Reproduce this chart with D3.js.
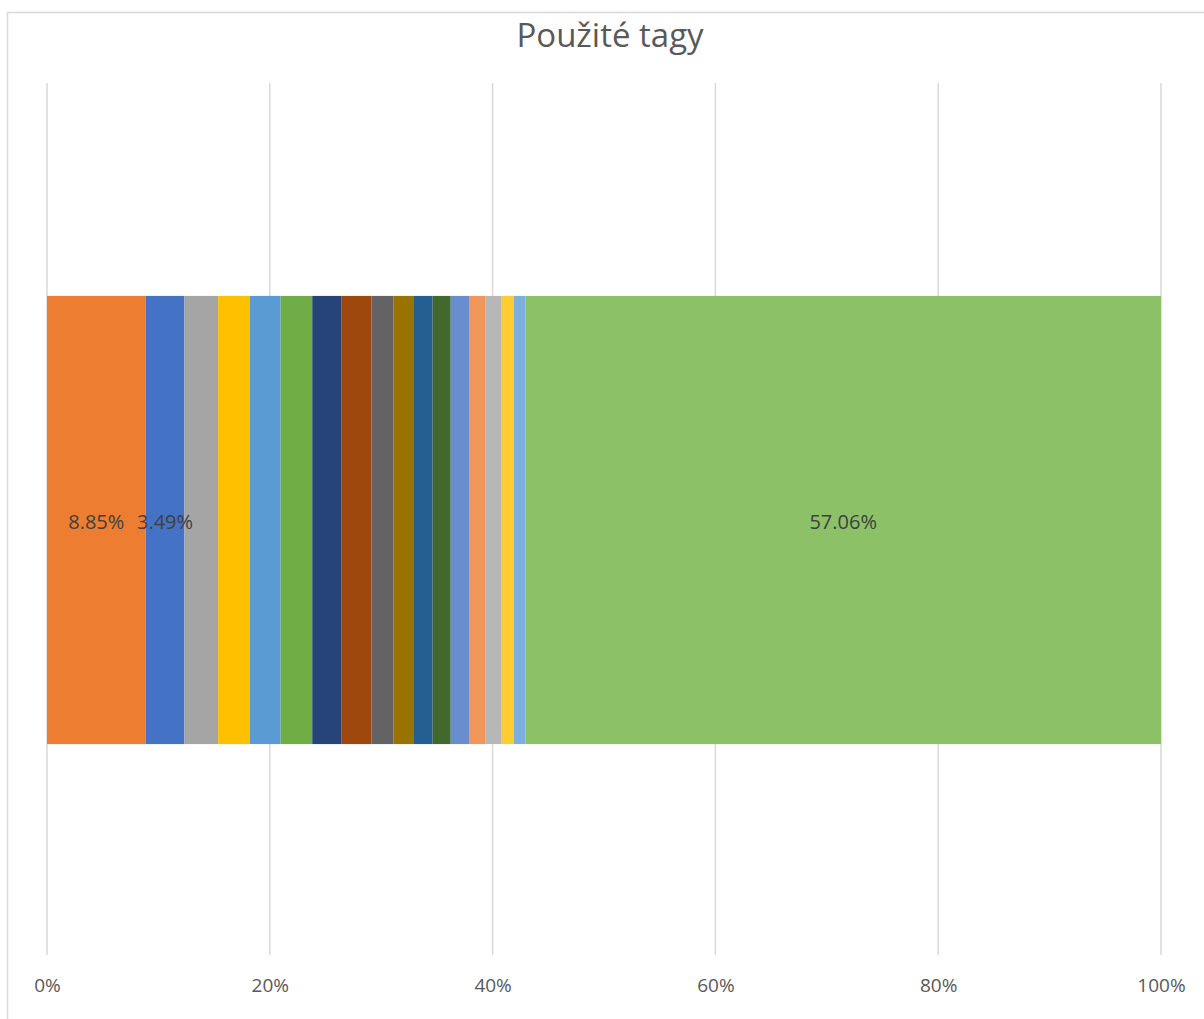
<!DOCTYPE html>
<html>
<head>
<meta charset="utf-8">
<script src="https://cdn.jsdelivr.net/npm/d3@7"></script>
<style>
    body { margin: 0; background: #fff; }
    svg text { font-family: 'Open Sans', 'Liberation Sans', sans-serif; }
</style>
</head>
<body>
<div id="chart"></div>
<script>
const title = 'Použité tagy';
const categories = ['Tagy'];
const seriesNames = ['Tag 1', 'Tag 2', 'Tag 3', 'Tag 4', 'Tag 5', 'Tag 6', 'Tag 7', 'Tag 8', 'Tag 9',
    'Tag 10', 'Tag 11', 'Tag 12', 'Tag 13', 'Tag 14', 'Tag 15', 'Tag 16', 'Tag 17', 'Tag 18'];
const seriesValues = [8.85, 3.49, 3.02, 2.85, 2.76, 2.84, 2.64, 2.69, 1.94,
    1.86, 1.68, 1.62, 1.64, 1.50, 1.44, 1.10, 1.02, 57.06];
const labelledSeries = ['Tag 1', 'Tag 2', 'Tag 18'];
const tickValues = [0, 0.2, 0.4, 0.6, 0.8, 1];

const colors = ['#ED7D31', '#4472C4', '#A5A5A5', '#FFC000', '#5B9BD5', '#70AD47', '#264478', '#9E480E', '#636363',
    '#997300', '#255E91', '#43682B', '#698ED0', '#F1975A', '#B7B7B7', '#FFCD33', '#7CAFDD', '#8CC168'];

const width = 1204, height = 1019;
const plot = { left: 47, right: 1161, top: 83, bottom: 955 };

const svg = d3.select('#chart').append('svg')
    .attr('width', width)
    .attr('height', height);

// chart frame
svg.append('rect')
    .attr('x', 7.5).attr('y', 12.5)
    .attr('width', 1220).attr('height', 1030)
    .attr('fill', '#fff')
    .attr('stroke', '#d9d9d9')
    .attr('stroke-width', 1.5);

svg.append('text')
    .attr('x', 610).attr('y', 47)
    .attr('text-anchor', 'middle')
    .attr('font-size', 33)
    .attr('fill', '#595959')
    .text(title);

// one row table for the stack, values normalised to 100%
const total = d3.sum(seriesValues);
const row = { category: categories[0] };
seriesNames.forEach((s, i) => { row[s] = seriesValues[i] / total; });
const stacked = d3.stack().keys(seriesNames)([row]);

const xScale = d3.scaleLinear().domain([0, 1]).range([plot.left, plot.right]);
const yScale = d3.scaleBand().domain(categories).range([plot.top + 2, plot.bottom]).padding(0.32);
const colorScale = d3.scaleOrdinal().domain(seriesNames).range(colors);

// gridlines
svg.append('g')
    .selectAll('line')
    .data(tickValues)
    .enter()
    .append('line')
    .attr('x1', d => xScale(d)).attr('x2', d => xScale(d))
    .attr('y1', plot.top).attr('y2', plot.bottom)
    .attr('stroke', '#d9d9d9')
    .attr('stroke-width', 1.5);

const layers = svg.append('g')
    .selectAll('g')
    .data(stacked)
    .enter()
    .append('g')
    .attr('fill', d => colorScale(d.key));

layers.selectAll('rect')
    .data(d => d)
    .enter()
    .append('rect')
    .attr('x', d => xScale(d[0]))
    .attr('y', d => yScale(d.data.category))
    .attr('width', d => xScale(d[1]) - xScale(d[0]))
    .attr('height', yScale.bandwidth());

// data labels (only some are shown)
const fmt = d3.format('.2%');
svg.append('g')
    .selectAll('text')
    .data(stacked.filter(s => labelledSeries.includes(s.key)))
    .enter()
    .append('text')
    .attr('x', d => (xScale(d[0][0]) + xScale(d[0][1])) / 2)
    .attr('y', d => yScale(d[0].data.category) + yScale.bandwidth() / 2 + 2)
    .attr('dy', '0.35em')
    .attr('text-anchor', 'middle')
    .attr('font-size', 20)
    .attr('fill', '#404040')
    .text(d => fmt(d[0][1] - d[0][0]));

const xAxis = d3.axisBottom(xScale)
    .tickValues(tickValues)
    .tickFormat(d3.format('.0%'))
    .tickSize(0)
    .tickPadding(24);

const xAxisGroup = svg.append('g')
    .attr('transform', `translate(0, ${plot.bottom})`)
    .call(xAxis);
xAxisGroup.select('.domain').remove();
xAxisGroup.selectAll('text')
    .attr('font-size', 19)
    .attr('fill', '#595959');
</script>
</body>
</html>
